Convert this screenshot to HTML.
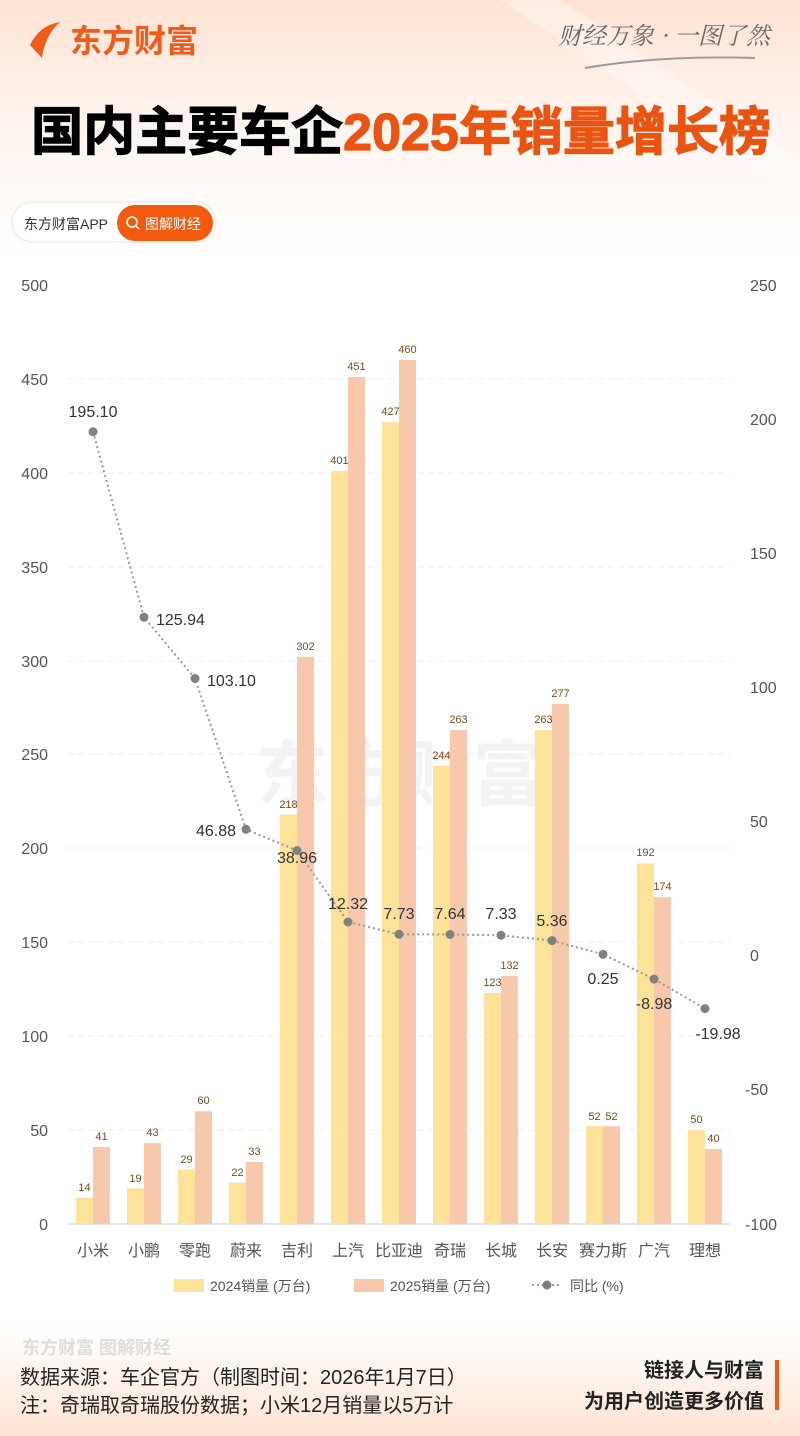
<!DOCTYPE html>
<html><head><meta charset="utf-8"><style>
body{margin:0;width:800px;height:1436px;overflow:hidden;font-family:"Liberation Sans","Noto Sans CJK SC",sans-serif;}
#bg{position:absolute;left:0;top:0;width:800px;height:1436px;background:linear-gradient(180deg,#fde3d2 0px,#fff4ee 120px,#ffffff 260px,#ffffff 1320px,#fff5ef 1370px,#fde3d2 1436px);}
</style></head><body><div id="bg"></div>
<svg width="800" height="1436" style="position:absolute;left:0;top:0" font-family="Liberation Sans, Noto Sans CJK SC, sans-serif">
<polygon points="500,0 560,0 800,160 800,200" fill="#ffffff" opacity="0.35"/>
<path d="M30,45 Q40,25 60,22 Q45,35 42,58 Z" fill="#f05a1a"/>
<text x="70" y="52" font-size="32" font-weight="bold" fill="#f05a1a">东方财富</text>
<text x="770" y="44" font-size="24" fill="#666" text-anchor="end" font-style="italic" font-family="Noto Serif CJK SC, serif">财经万象 · 一图了然</text>
<path d="M585,68 Q660,55 755,58" stroke="#999" stroke-width="2" fill="none"/>
<text x="401" y="150" font-size="52" font-weight="bold" text-anchor="middle" stroke-width="1.2"><tspan fill="#000" stroke="#000">国内主要车企</tspan><tspan fill="#ea5413" stroke="#ea5413">2025年销量增长榜</tspan></text>
<rect x="12" y="202" width="204" height="40" rx="20" fill="#fff" stroke="#fbe0d4"/>
<text x="24" y="229" font-size="14" fill="#333">东方财富APP</text>
<rect x="117" y="205" width="96" height="36" rx="18" fill="#f25a10"/>
<circle cx="132" cy="222" r="5" stroke="#fff" stroke-width="1.6" fill="none"/><line x1="135.5" y1="225.5" x2="139" y2="229" stroke="#fff" stroke-width="1.6"/>
<text x="145" y="229" font-size="14" fill="#fff">图解财经</text>
<text x="400" y="800" font-size="72" font-weight="bold" fill="#f3f3f3" text-anchor="middle">东方财富</text>
<g stroke="#eee" stroke-dasharray="6,4">
<line x1="68" x2="730" y1="379" y2="379"/><line x1="68" x2="730" y1="473" y2="473"/><line x1="68" x2="730" y1="567" y2="567"/><line x1="68" x2="730" y1="661" y2="661"/><line x1="68" x2="730" y1="754" y2="754"/><line x1="68" x2="730" y1="848" y2="848"/><line x1="68" x2="730" y1="942" y2="942"/><line x1="68" x2="730" y1="1036" y2="1036"/><line x1="68" x2="730" y1="1130" y2="1130"/>
</g>
<line x1="68" x2="730" y1="1224" y2="1224" stroke="#ccc"/>
<g font-size="16" fill="#555" text-anchor="end">
<text x="48" y="291">500</text><text x="48" y="385">450</text><text x="48" y="479">400</text><text x="48" y="573">350</text><text x="48" y="667">300</text><text x="48" y="760">250</text><text x="48" y="854">200</text><text x="48" y="948">150</text><text x="48" y="1042">100</text><text x="48" y="1136">50</text><text x="48" y="1230">0</text>
</g>
<g font-size="16" fill="#555" text-anchor="start">
<text x="750" y="291">250</text><text x="750" y="425">200</text><text x="750" y="559">150</text><text x="750" y="693">100</text><text x="750" y="827">50</text><text x="750" y="961">0</text><text x="745" y="1095">-50</text><text x="745" y="1230">-100</text>
</g>
<g fill="#fde39a">
<rect x="76" y="1197.7" width="17" height="26.3"/><rect x="127" y="1188.3" width="17" height="35.7"/><rect x="178" y="1169.5" width="17" height="54.5"/><rect x="229" y="1182.7" width="17" height="41.3"/><rect x="280" y="814.6" width="17" height="409.4"/><rect x="331" y="470.9" width="17" height="753.1"/><rect x="382" y="422.1" width="17" height="801.9"/><rect x="433" y="765.8" width="17" height="458.2"/><rect x="484" y="993" width="17" height="231"/><rect x="535" y="730.1" width="17" height="493.9"/><rect x="586" y="1126.3" width="17" height="97.7"/><rect x="637" y="863.4" width="17" height="360.6"/><rect x="688" y="1130.1" width="17" height="93.9"/>
</g>
<g fill="#f8c8ac">
<rect x="93" y="1147" width="17" height="77"/><rect x="144" y="1143.2" width="17" height="80.8"/><rect x="195" y="1111.3" width="17" height="112.7"/><rect x="246" y="1162" width="17" height="62"/><rect x="297" y="656.8" width="17" height="567.2"/><rect x="348" y="377" width="17" height="847"/><rect x="399" y="360.1" width="17" height="863.9"/><rect x="450" y="730.1" width="17" height="493.9"/><rect x="501" y="976.1" width="17" height="247.9"/><rect x="552" y="703.8" width="17" height="520.2"/><rect x="603" y="1126.3" width="17" height="97.7"/><rect x="654" y="897.2" width="17" height="326.8"/><rect x="705" y="1148.9" width="17" height="75.1"/>
</g>
<g font-size="11" fill="#7a4a1a" text-anchor="middle">
<text x="84.5" y="1191">14</text><text x="135.5" y="1182">19</text><text x="186.5" y="1163">29</text><text x="237.5" y="1176">22</text><text x="288.5" y="808">218</text><text x="339.5" y="464">401</text><text x="390.5" y="415">427</text><text x="441.5" y="759">244</text><text x="492.5" y="986">123</text><text x="543.5" y="723">263</text><text x="594.5" y="1120">52</text><text x="645.5" y="856">192</text><text x="696.5" y="1123">50</text>
<text x="101.5" y="1140">41</text><text x="152.5" y="1136">43</text><text x="203.5" y="1104">60</text><text x="254.5" y="1155">33</text><text x="305.5" y="650">302</text><text x="356.5" y="370">451</text><text x="407.5" y="353">460</text><text x="458.5" y="723">263</text><text x="509.5" y="969">132</text><text x="560.5" y="697">277</text><text x="611.5" y="1120">52</text><text x="662.5" y="890">174</text><text x="713.5" y="1142">40</text>
</g>
<polyline points="93,431.7 144,617.2 195,678.5 246,829.3 297,850.5 348,922 399,934.3 450,934.5 501,935.3 552,940.6 603,954.3 654,979.1 705,1008.6" fill="none" stroke="#999" stroke-width="2" stroke-dasharray="2,3"/>
<g fill="#808080">
<circle cx="93" cy="431.7" r="4.5"/><circle cx="144" cy="617.2" r="4.5"/><circle cx="195" cy="678.5" r="4.5"/><circle cx="246" cy="829.3" r="4.5"/><circle cx="297" cy="850.5" r="4.5"/><circle cx="348" cy="922" r="4.5"/><circle cx="399" cy="934.3" r="4.5"/><circle cx="450" cy="934.5" r="4.5"/><circle cx="501" cy="935.3" r="4.5"/><circle cx="552" cy="940.6" r="4.5"/><circle cx="603" cy="954.3" r="4.5"/><circle cx="654" cy="979.1" r="4.5"/><circle cx="705" cy="1008.6" r="4.5"/>
</g>
<g font-size="16" fill="#333">
<text x="93" y="417" text-anchor="middle">195.10</text>
<text x="156" y="625">125.94</text>
<text x="207" y="686">103.10</text>
<text x="236" y="836" text-anchor="end">46.88</text>
<text x="297" y="863" text-anchor="middle">38.96</text>
<text x="348" y="909" text-anchor="middle">12.32</text>
<text x="399" y="919" text-anchor="middle">7.73</text>
<text x="450" y="919" text-anchor="middle">7.64</text>
<text x="501" y="919" text-anchor="middle">7.33</text>
<text x="552" y="926" text-anchor="middle">5.36</text>
<text x="603" y="984" text-anchor="middle">0.25</text>
<text x="654" y="1009" text-anchor="middle">-8.98</text>
<text x="718" y="1039" text-anchor="middle">-19.98</text>
</g>
<g font-size="16" fill="#555" text-anchor="middle">
<text x="93" y="1256">小米</text><text x="144" y="1256">小鹏</text><text x="195" y="1256">零跑</text><text x="246" y="1256">蔚来</text><text x="297" y="1256">吉利</text><text x="348" y="1256">上汽</text><text x="399" y="1256">比亚迪</text><text x="450" y="1256">奇瑞</text><text x="501" y="1256">长城</text><text x="552" y="1256">长安</text><text x="603" y="1256">赛力斯</text><text x="654" y="1256">广汽</text><text x="705" y="1256">理想</text>
</g>
<rect x="174" y="1279" width="30" height="13" fill="#fde39a"/>
<text x="210" y="1291" font-size="14" fill="#555">2024销量 (万台)</text>
<rect x="354" y="1279" width="30" height="13" fill="#f8c8ac"/>
<text x="390" y="1291" font-size="14" fill="#555">2025销量 (万台)</text>
<line x1="532" x2="562" y1="1285" y2="1285" stroke="#999" stroke-width="2" stroke-dasharray="2,3"/>
<circle cx="547" cy="1285" r="4.5" fill="#808080"/>
<text x="570" y="1291" font-size="14" fill="#555">同比 (%)</text>
<text x="22" y="1354" font-size="18" font-weight="bold" fill="#ddd">东方财富 图解财经</text>
<text x="20" y="1384" font-size="20" fill="#222">数据来源：车企官方（制图时间：2026年1月7日）</text>
<text x="20" y="1412" font-size="20" fill="#222">注：奇瑞取奇瑞股份数据；小米12月销量以5万计</text>
<text x="764" y="1377" font-size="20" font-weight="bold" fill="#222" text-anchor="end">链接人与财富</text>
<text x="764" y="1408" font-size="20" font-weight="bold" fill="#222" text-anchor="end">为用户创造更多价值</text>
<rect x="775" y="1360" width="4" height="50" fill="#f05a1a"/>
</svg>
</body></html>
